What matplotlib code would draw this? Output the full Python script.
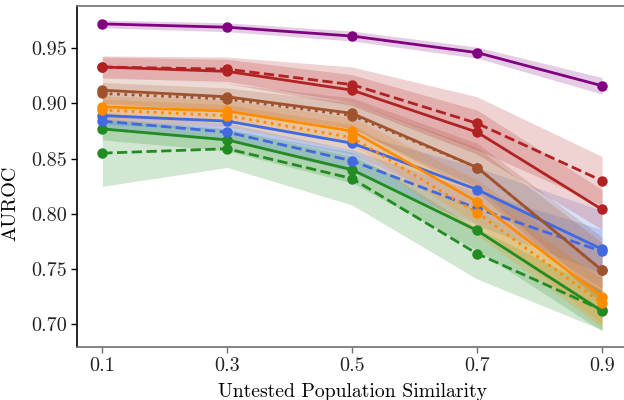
import matplotlib
matplotlib.use("Agg")
import matplotlib.pyplot as plt
import numpy as np

plt.rcParams.update({
    "font.family": "serif",
    "font.serif": ["cmr10"],
    "mathtext.fontset": "cm",
    "axes.formatter.use_mathtext": True,
    "axes.unicode_minus": False,
})

similarity = [0.1, 0.3, 0.5, 0.7, 0.9]

# mean AUROC and spread for each method
purple_mean = [0.972, 0.969, 0.961, 0.946, 0.916]
purple_std = [0.0035, 0.004, 0.0045, 0.005, 0.0075]

red_solid_mean = [0.933, 0.929, 0.912, 0.874, 0.804]
red_solid_std = [0.009, 0.011, 0.014, 0.020, 0.018]
red_dash_mean = [0.933, 0.931, 0.917, 0.882, 0.830]
red_dash_std = [0.010, 0.011, 0.016, 0.024, 0.022]

brown_solid_mean = [0.912, 0.906, 0.891, 0.842, 0.749]
brown_solid_std = [0.012, 0.012, 0.014, 0.022, 0.030]
brown_dot_mean = [0.909, 0.904, 0.889, 0.842, 0.749]
brown_dot_std = [0.010, 0.010, 0.012, 0.018, 0.025]

orange_solid_mean = [0.897, 0.893, 0.875, 0.811, 0.725]
orange_solid_std = [0.010, 0.010, 0.012, 0.020, 0.025]
orange_dot_mean = [0.894, 0.889, 0.869, 0.801, 0.719]
orange_dot_std = [0.010, 0.010, 0.012, 0.020, 0.022]

blue_solid_mean = [0.889, 0.884, 0.864, 0.822, 0.768]
blue_solid_std = [0.008, 0.008, 0.010, 0.020, 0.035]
blue_dash_mean = [0.884, 0.874, 0.848, 0.805, 0.766]
blue_dash_std = [0.008, 0.008, 0.010, 0.015, 0.020]

green_solid_mean = [0.877, 0.867, 0.840, 0.785, 0.712]
green_solid_std = [0.010, 0.010, 0.012, 0.018, 0.018]
green_dash_mean = [0.855, 0.859, 0.832, 0.764, 0.713]
green_dash_std = [0.030, 0.017, 0.024, 0.023, 0.018]

series = [
    (green_dash_mean, green_dash_std, "forestgreen", "--"),
    (green_solid_mean, green_solid_std, "forestgreen", "-"),
    (blue_dash_mean, blue_dash_std, "royalblue", "--"),
    (blue_solid_mean, blue_solid_std, "royalblue", "-"),
    (orange_dot_mean, orange_dot_std, "darkorange", ":"),
    (orange_solid_mean, orange_solid_std, "darkorange", "-"),
    (brown_dot_mean, brown_dot_std, "sienna", ":"),
    (brown_solid_mean, brown_solid_std, "sienna", "-"),
    (red_dash_mean, red_dash_std, "firebrick", "--"),
    (red_solid_mean, red_solid_std, "firebrick", "-"),
    (purple_mean, purple_std, "purple", "-"),
]

fig = plt.figure(figsize=(6.24, 4.0), dpi=100)
ax = fig.add_axes([0.1239, 0.1333, 0.881, 0.8525])

x = np.array(similarity)
for mean, std, color, ls in series:
    m = np.array(mean)
    s = np.array(std)
    ax.fill_between(x, m - s, m + s, color=color, alpha=0.2, linewidth=0)
    ax.plot(x, m, color=color, linestyle=ls, linewidth=2, marker="o", markersize=6.5)

ax.set_xlim(0.06, 0.94)
ax.set_ylim(0.6798, 0.9885)
ax.set_xticks(similarity)
ax.set_xticklabels(["0.1", "0.3", "0.5", "0.7", "0.9"])
ax.set_yticks([0.70, 0.75, 0.80, 0.85, 0.90, 0.95])
ax.set_yticklabels(["0.70", "0.75", "0.80", "0.85", "0.90", "0.95"])
ax.tick_params(labelsize=14.5, length=4, width=1)
ax.tick_params(axis="x", colors="#707070", labelcolor="#222222")
ax.tick_params(axis="y", colors="black", labelcolor="#222222")

ax.set_xlabel("Untested Population Similarity", fontsize=14.2, labelpad=6)
ax.set_ylabel("AUROC", fontsize=14.5, labelpad=5)
ax.yaxis.set_label_coords(-0.105, 0.42)

for side in ["top", "right", "bottom"]:
    ax.spines[side].set_color("#707070")
    ax.spines[side].set_linewidth(1.2)
ax.spines["left"].set_color("black")
ax.spines["left"].set_linewidth(1.2)

fig.savefig("out.png", dpi=100)
